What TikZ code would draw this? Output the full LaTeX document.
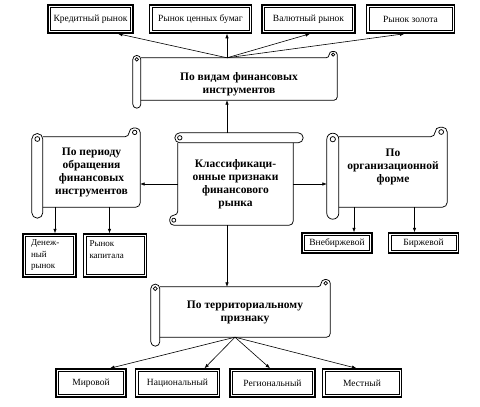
\documentclass[tikz,border=0pt]{standalone}
\usepackage{fontspec}
\setmainfont{Liberation Serif}
\usetikzlibrary{positioning,arrows.meta}

% scroll outlines drawn around a named node: #1 node, #2 roll size (pt)
\newcommand{\hscrolldeco}[2]{%
  \draw[scrollln, rounded corners=0.4*#2pt]
    (#1.north west) -- ([xshift=-#2pt]#1.north east)
    -- ([xshift=-#2pt,yshift=0.8*#2pt]#1.north east)
    -- ([yshift=0.8*#2pt]#1.north east) -- (#1.south east) -- (#1.south west);
  \draw[scrollln, rounded corners=0.5*#2pt]
    ([xshift=-#2pt,yshift=-#2pt]#1.south west) rectangle ([yshift=0.3*#2pt]#1.north west);
  \draw[scrollln] ([xshift=-0.5*#2pt,yshift=-0.2*#2pt]#1.north west) circle (0.22*#2pt);
  \draw[scrollln] ([xshift=-0.5*#2pt,yshift=0.4*#2pt]#1.north east) circle (0.2*#2pt);
  \coordinate (#1-roll) at ([xshift=-#2pt]#1.west);
}
\newcommand{\vscrolldeco}[2]{%
  \draw[scrollln, rounded corners=0.4*#2pt]
    (#1.north east) -- (#1.south east) -- ([xshift=-0.8*#2pt]#1.south west)
    -- ([xshift=-0.8*#2pt,yshift=#2pt]#1.south west)
    -- ([yshift=#2pt]#1.south west) -- (#1.north west);
  \draw[scrollln, rounded corners=0.5*#2pt]
    ([xshift=-0.3*#2pt]#1.north west) rectangle ([xshift=#2pt,yshift=#2pt]#1.north east);
  \draw[scrollln] ([xshift=0.2*#2pt,yshift=0.5*#2pt]#1.north west) circle (0.22*#2pt);
  \draw[scrollln] ([xshift=-0.4*#2pt,yshift=0.5*#2pt]#1.south west) circle (0.2*#2pt);
  \coordinate (#1-roll) at ([yshift=#2pt]#1.north);
}

\begin{document}
\begin{tikzpicture}[
      x=1pt, y=-1pt,
      scroll/.style={inner sep=0pt, align=center,
                     font=\fontsize{11.5}{13}\selectfont\bfseries},
      scrollln/.style={draw, line width=0.75pt},
      box/.style={draw, line width=1.5pt, inner sep=0pt, align=center,
                  font=\fontsize{9.5}{11}\selectfont,
                  path picture={\draw[line width=0.45pt]
                    ([shift={(2.4pt,2.4pt)}]path picture bounding box.south west) rectangle
                    ([shift={(-2.4pt,-2.4pt)}]path picture bounding box.north east);}},
      tbox/.style={box, align=left, font=\fontsize{9}{11.5}\selectfont},
      arr/.style={-{Latex[length=4.5pt,width=3.5pt]}, line width=0.6pt}
    ]
    \useasboundingbox[fill=white] (0,0) rectangle (480,407);
    \coordinate (axis) at (227,0);

    % centre
    \node[scroll, minimum width=115pt, minimum height=82pt] (klass) at (235.5,184)
      {Классификаци-\\онные признаки\\финансового\\рынка};
    \vscrolldeco{klass}{10}

    % by kind of instrument
    \node[scroll, minimum width=196pt, minimum height=42pt] (vid) at (239,79)
      {\rule{0pt}{19pt}По видам финансовых\\инструментов};
    \hscrolldeco{vid}{8}
    \node[box, minimum width=85pt, minimum height=28pt] (kred) at (90.5,19) {Кредитный рынок};
    \node[box, minimum width=102pt, minimum height=28pt, right=15pt of kred] (cenb) {Рынок ценных бумаг};
    \node[box, minimum width=93pt, minimum height=28pt, right=9pt of cenb] (valut) {Валютный рынок};
    \node[box, minimum width=88pt, minimum height=28pt, right=10pt of valut] (zoloto) {Рынок золота};

    % by period
    \node[scroll, minimum width=97pt, minimum height=70pt] (period) at (91.5,172)
      {По периоду\\обращения\\финансовых\\инструментов};
    \hscrolldeco{period}{11}
    \node[tbox, minimum width=53pt, minimum height=43pt, text width=37pt] (den) at (49.5,255.5)
      {Денеж-\\ный\\рынок};
    \node[tbox, minimum width=63pt, minimum height=43pt, text width=51pt, right=6pt of den] (kap)
      {Рынок\\капитала\rule[-12pt]{0pt}{12pt}};

    % by organisational form
    \node[scroll, minimum width=108pt, minimum height=70pt] (orgf) at (393,172)
      {По\\организационной\\форме\rule[-13pt]{0pt}{13pt}};
    \hscrolldeco{orgf}{12}
    \node[box, minimum width=70pt, minimum height=20pt] (vneb) at (337,243) {Внебиржевой};
    \node[box, minimum width=70pt, minimum height=20pt, right=15pt of vneb] (birzh) {Биржевой};

    % by territory
    \node[scroll, minimum width=170pt, minimum height=50pt] (terr) at (245,312)
      {По территориальному\\признаку};
    \hscrolldeco{terr}{9}
    \node[box, minimum width=70pt, minimum height=28pt] (mir) at (91,383) {Мировой};
    \node[box, minimum width=84pt, minimum height=28pt, right=8pt of mir] (nac) {Национальный};
    \node[box, minimum width=85pt, minimum height=28pt, right=9pt of nac] (reg) {Региональный};
    \node[box, minimum width=79pt, minimum height=28pt, right=6pt of reg] (mest) {Местный};

    % connectors
    \draw[arr] (klass-roll -| axis) -- (vid.south -| axis);
    \draw[arr] (klass.south -| axis) -- (terr.north -| axis);
    \draw[arr] (klass.west) -- (klass.west -| period.east);
    \draw[arr] (klass.east) -- (klass.east -| orgf-roll);

    \draw[arr] (vid.north -| axis) -- ([xshift=27.5pt]kred.south);
    \draw[arr] (vid.north -| axis) -- (cenb.south -| axis);
    \draw[arr] (vid.north -| axis) -- ([xshift=1.5pt]valut.south);
    \draw[arr] (vid.north -| axis) -- ([xshift=-6pt]zoloto.south);

    \draw[arr] ([xshift=5.5pt]den.north |- period.south) -- ([xshift=5.5pt]den.north);
    \draw[arr] ([xshift=-5.5pt]kap.north |- period.south) -- ([xshift=-5.5pt]kap.north);
    \draw[arr] ([xshift=17pt]vneb.north |- orgf.south) -- ([xshift=17pt]vneb.north);
    \draw[arr] ([xshift=-9pt]birzh.north |- orgf.south) -- ([xshift=-9pt]birzh.north);

    \draw[arr] ([xshift=-10pt]terr.south) -- ([xshift=19pt]mir.north);
    \draw[arr] ([xshift=-10pt]terr.south) -- ([xshift=27pt]nac.north);
    \draw[arr] ([xshift=-10pt]terr.south) -- ([xshift=-2.5pt]reg.north);
    \draw[arr] ([xshift=-10pt]terr.south) -- ([xshift=-5.5pt]mest.north);
  \end{tikzpicture}
\end{document}
